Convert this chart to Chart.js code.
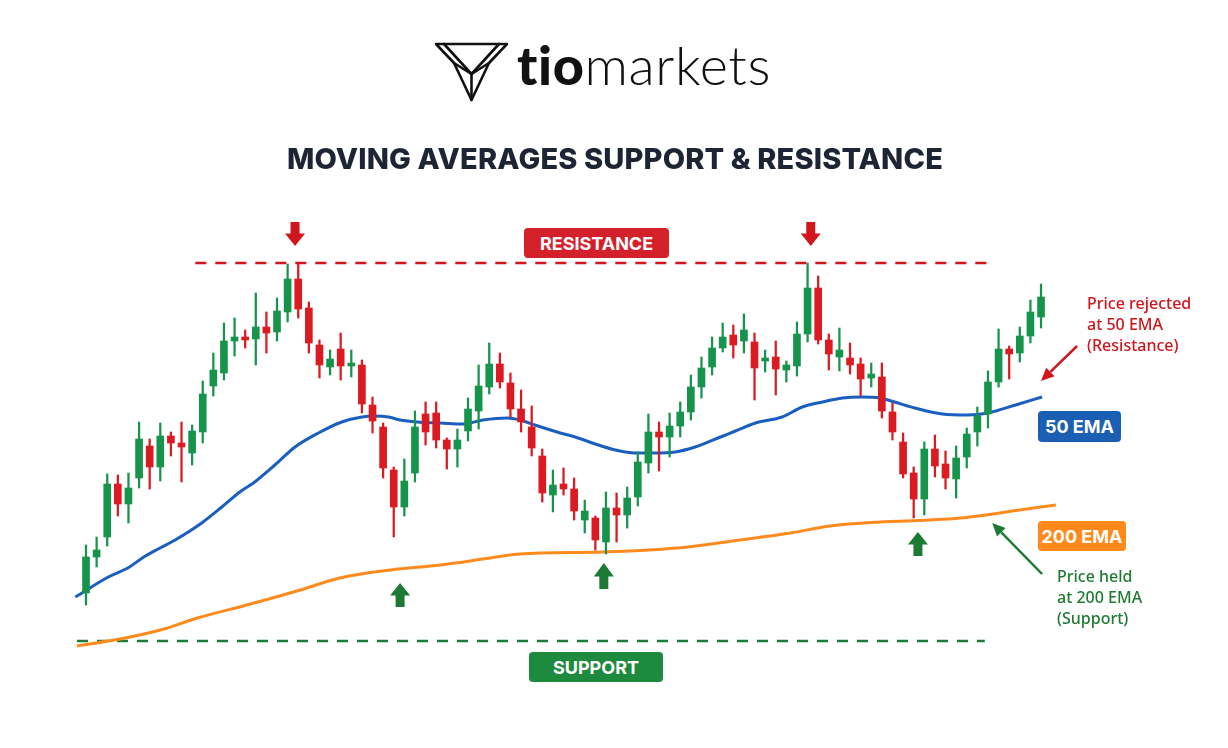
<!DOCTYPE html>
<html><head><meta charset="utf-8">
<script src="https://cdn.jsdelivr.net/npm/chart.js@4.4.0/dist/chart.umd.min.js"></script>
<style>
html,body{margin:0;padding:0;background:#fff;}
#wrap{position:relative;width:1228px;height:748px;overflow:hidden;background:#fff;}
#c{position:absolute;left:0;top:0;}
.abs{position:absolute;white-space:nowrap;}
.badge{position:absolute;color:#fff;font-family:'Inter',sans-serif;font-weight:700;font-size:18px;display:flex;align-items:center;justify-content:center;border-radius:4px;}
.note{position:absolute;white-space:nowrap;font-family:'Noto Sans',sans-serif;font-weight:500;font-size:16px;line-height:21px;}
</style></head>
<body>
<div id="wrap">
<canvas id="c" width="1228" height="748"></canvas>
<svg class="abs" style="left:432px;top:39px" width="80" height="64" viewBox="0 0 80 64">
 <g fill="none" stroke="#111" stroke-width="2.6" stroke-linejoin="round" stroke-linecap="round">
  <path d="M4 5 H75 L57 24 L39.5 61 L22 24 Z"/>
  <path d="M22 24 L39.5 35 L57 24"/>
  <path d="M12 5 L39.5 35 L67 5"/>
  <path d="M39.5 35 L39.5 61"/>
 </g>
</svg>
<div id="brand" class="abs" style="left:517px;top:35px;font-family:'Lato',sans-serif;font-size:54px;line-height:60px;color:#111;"><span style="font-weight:900">tio</span><span style="font-weight:300">markets</span></div>
<div id="title" class="abs" style="left:287px;top:144px;font-family:'Inter',sans-serif;font-weight:800;font-size:29px;line-height:29px;color:#1d2433;">MOVING AVERAGES SUPPORT &amp; RESISTANCE</div>
<div class="badge" style="left:524px;top:228px;width:145px;height:30px;background:#d4202a;">RESISTANCE</div>
<div class="badge" style="left:529px;top:652px;width:134px;height:30px;background:#1e8a3e;">SUPPORT</div>
<div class="badge" style="left:1038px;top:411px;width:83px;height:31px;background:#1a5fb4;">50 EMA</div>
<div class="badge" style="left:1038px;top:521px;width:88px;height:30px;background:#ff8a1c;">200 EMA</div>
<div class="note" style="left:1087px;top:293px;color:#d0151c;">Price rejected<br>at 50 EMA<br>(Resistance)</div>
<div class="note" style="left:1057px;top:566px;color:#1f7a33;">Price held<br>at 200 EMA<br>(Support)</div>
</div>
<script>
// ---- candle data (price units) ----
const candleOpen = [
 40.7,44.3,46.3,51.6,49.6,52.2,55.4,53.3,56.4,55.7,
 54.7,56.8,61.4,62.7,65.9,66.3,66.1,67.3,66.8,68.8,
 72.1,69.2,65.5,63.3,65.1,63.4,63.5,59.5,57.3,53.0,
 49.3,52.7,58.6,58.7,56.0,55.1,56.9,58.9,61.3,63.6,
 61.7,59.1,57.3,54.4,50.5,51.6,51.1,48.0,48.2,45.8,
 49.2,48.5,50.3,53.7,56.8,56.3,57.4,58.8,61.3,63.3,
 65.2,66.5,65.9,65.8,63.9,64.3,63.0,63.4,66.6,71.2,
 66.0,64.3,64.2,63.6,62.2,62.3,58.8,55.8,52.7,50.1,
 55.1,53.6,52.1,54.3,56.8,58.6,61.8,65.1,64.7,66.4,
 68.3];
const candleClose = [
 44.3,45.0,51.6,49.6,51.2,56.1,53.3,56.4,55.7,55.3,
 56.9,60.6,63.0,65.9,66.3,66.0,67.3,66.7,68.9,72.1,
 69.1,65.7,63.5,64.1,63.4,63.7,59.6,57.9,53.2,49.3,
 51.9,57.3,56.8,56.0,55.1,56.0,59.1,61.4,63.6,61.8,
 59.1,57.8,55.2,50.7,51.5,51.1,48.9,48.9,46.0,49.2,
 48.5,50.2,53.8,56.8,56.3,57.4,58.8,61.3,63.2,65.2,
 66.3,65.5,67.0,63.2,64.2,63.1,63.5,66.6,71.2,66.0,
 64.6,65.0,63.5,62.1,62.6,58.9,56.8,52.6,50.1,55.1,
 53.4,52.2,54.2,56.6,58.4,61.8,65.1,64.6,66.4,68.8,
 70.3];
const candleHigh = [
 45.5,46.3,52.6,52.5,52.7,57.8,56.1,57.7,56.8,57.8,
 57.5,61.9,64.7,67.7,68.2,67.0,70.7,68.8,70.2,73.6,
 73.6,69.8,66.0,65.0,66.7,65.0,64.0,60.3,57.7,53.3,
 54.1,58.9,59.8,59.8,56.2,57.1,60.2,63.5,65.7,64.7,
 62.7,61.0,59.4,55.1,53.0,53.2,52.2,50.0,48.4,50.8,
 50.7,51.3,54.8,58.6,57.8,58.7,59.8,62.5,64.3,66.3,
 67.7,67.5,68.6,66.7,65.0,65.9,63.9,67.8,73.7,72.4,
 66.6,67.2,65.7,64.2,63.7,63.7,59.7,56.7,53.3,55.8,
 56.5,54.9,55.4,57.2,59.3,62.9,67.1,65.4,67.3,70.0,
 71.6];
const candleLow = [
 39.5,43.3,45.4,48.4,47.7,51.2,51.1,51.9,54.4,51.8,
 53.5,55.7,60.4,62.0,64.4,65.2,63.5,64.7,65.9,67.8,
 68.2,64.7,62.2,62.5,62.0,62.3,58.7,56.7,52.2,46.3,
 48.4,51.8,55.5,55.2,53.1,53.3,55.9,57.1,60.6,61.2,
 58.3,56.8,54.4,49.8,48.8,50.5,48.0,46.7,45.0,44.6,
 45.8,47.2,49.4,52.7,52.9,54.3,56.3,58.0,60.2,62.5,
 64.8,64.2,64.7,60.0,62.8,60.5,61.8,62.4,65.8,65.6,
 63.0,62.9,62.6,60.4,61.3,58.2,56.0,52.2,48.2,48.5,
 52.3,51.1,50.2,53.2,55.4,57.2,61.3,62.1,63.8,65.7,
 67.2];

// ---- moving averages (bar index position -> price) ----
const ema50At = [-1.0,2.1,4.1,5.3,6.8,8.4,10.9,12.8,14.5,15.9,17.8,19.7,21.9,24.1,26.0,27.2,28.5,29.6,31.2,33.4,35.5,37.4,39.7,40.9,42.3,44.7,46.1,48.0,49.9,51.7,53.6,55.5,57.4,59.8,61.2,63.1,65.6,67.5,69.4,71.3,73.1,74.8,76.2,78.1,80.7,83.1,85.0,87.6,90.1];
const ema50 = [40.3,42.3,43.3,44.2,45.1,46.0,47.7,49.3,50.8,51.8,53.5,55.3,56.7,57.8,58.3,58.4,58.3,58.0,57.8,57.7,57.6,58.0,58.2,58.0,57.5,56.7,56.3,55.6,55.0,54.7,54.7,54.8,55.3,56.3,56.9,57.7,58.3,59.3,59.8,60.2,60.3,60.2,59.8,59.2,58.6,58.5,58.7,59.5,60.3];
const ema200At = [-0.85,3.2,7.0,10.5,15.5,20.2,23.9,28.7,33.4,38.1,40.9,48.7,55.7,61.6,66.4,70.1,74.8,79.5,82.4,86.1,89.3,91.4];
const ema200 = [35.4,36.1,37.0,38.2,39.6,41.0,42.2,43.0,43.5,44.2,44.6,44.8,45.2,46.0,46.7,47.4,47.8,48.0,48.2,48.7,49.2,49.5];

// ---- horizontal levels ----
const resistanceLevel = 73.7, resistanceSpan = [10.3, 85.0];
const supportLevel = 35.9, supportSpan = [-0.85, 84.7];

const UP = '#17944b', DOWN = '#db1a21';
const idx = candleOpen.map((_, i) => i);
const colors = idx.map(i => candleClose[i] >= candleOpen[i] ? UP : DOWN);

const RED = '#d0151c', DGREEN = '#1c7a35';
const blockArrows = [
  {x: 19.7, tip: 75.4, tail: 77.8, color: RED},
  {x: 68.3, tip: 75.4, tail: 77.8, color: RED},
  {x: 29.6, tip: 41.7, tail: 39.3, color: DGREEN},
  {x: 48.8, tip: 43.7, tail: 41.1, color: DGREEN},
  {x: 78.4, tip: 46.8, tail: 44.4, color: DGREEN}
];
const pointerArrows = [
  {from: [93.4, 65.4], to: [90.0, 61.9], color: RED},
  {from: [90.1, 42.6], to: [85.4, 47.7], color: DGREEN}
];

const arrowPlugin = {
  id: 'arrows',
  afterDatasetsDraw(chart) {
    const ctx = chart.ctx, xs = chart.scales.x, ys = chart.scales.y;
    ctx.save();
    blockArrows.forEach(a => {
      const px = xs.getPixelForValue(a.x), tipY = ys.getPixelForValue(a.tip), tailY = ys.getPixelForValue(a.tail);
      const dir = Math.sign(tipY - tailY), len = Math.abs(tipY - tailY);
      const neck = tipY - dir * len * 0.52, hh = 10, sh = 4.5;
      ctx.fillStyle = a.color;
      ctx.beginPath();
      ctx.moveTo(px - sh, tailY); ctx.lineTo(px + sh, tailY); ctx.lineTo(px + sh, neck);
      ctx.lineTo(px + hh, neck); ctx.lineTo(px, tipY); ctx.lineTo(px - hh, neck); ctx.lineTo(px - sh, neck);
      ctx.closePath(); ctx.fill();
    });
    pointerArrows.forEach(a => {
      const x1 = xs.getPixelForValue(a.from[0]), y1 = ys.getPixelForValue(a.from[1]);
      const x2 = xs.getPixelForValue(a.to[0]), y2 = ys.getPixelForValue(a.to[1]);
      const ang = Math.atan2(y2 - y1, x2 - x1), hl = 13, hw = 6;
      const bx = x2 - Math.cos(ang) * hl, by = y2 - Math.sin(ang) * hl;
      ctx.strokeStyle = a.color; ctx.fillStyle = a.color; ctx.lineWidth = 2.5;
      ctx.beginPath(); ctx.moveTo(x1, y1); ctx.lineTo(bx, by); ctx.stroke();
      ctx.beginPath(); ctx.moveTo(x2, y2);
      ctx.lineTo(bx + Math.sin(ang) * hw, by - Math.cos(ang) * hw);
      ctx.lineTo(bx - Math.sin(ang) * hw, by + Math.cos(ang) * hw);
      ctx.closePath(); ctx.fill();
    });
    ctx.restore();
  }
};

new Chart(document.getElementById('c'), {
  type: 'bar',
  data: {
    datasets: [
      {type: 'bar', label: 'body', data: idx.map(i => ({x: i, y: [candleOpen[i], candleClose[i]]})),
       backgroundColor: colors, barThickness: 7, grouped: false, order: 1, borderWidth: 0},
      {type: 'bar', label: 'wick', data: idx.map(i => ({x: i, y: [candleLow[i], candleHigh[i]]})),
       backgroundColor: colors, barThickness: 1.6, grouped: false, order: 2, borderWidth: 0},
      {type: 'line', label: '50 EMA', data: ema50At.map((x, k) => ({x, y: ema50[k]})),
       borderColor: '#1a5fbf', borderWidth: 3, pointRadius: 0, cubicInterpolationMode: 'monotone', order: 3},
      {type: 'line', label: '200 EMA', data: ema200At.map((x, k) => ({x, y: ema200[k]})),
       borderColor: '#ff8b1f', borderWidth: 3, pointRadius: 0, cubicInterpolationMode: 'monotone', order: 4},
      {type: 'line', label: 'Resistance', data: resistanceSpan.map(x => ({x, y: resistanceLevel})),
       borderColor: '#d0151c', borderWidth: 2.5, borderDash: [11, 9], pointRadius: 0, order: 5},
      {type: 'line', label: 'Support', data: supportSpan.map(x => ({x, y: supportLevel})),
       borderColor: '#1e7b3a', borderWidth: 2.5, borderDash: [11, 9], pointRadius: 0, order: 5}
    ]
  },
  options: {
    responsive: false, animation: false, events: [], devicePixelRatio: 1,
    layout: {padding: 0},
    scales: {
      x: {type: 'linear', min: -8.105, max: 107.62, display: false, offset: false},
      y: {min: 25.2, max: 100, display: false}
    },
    plugins: {legend: {display: false}, tooltip: {enabled: false}}
  },
  plugins: [arrowPlugin]
});

function fitWidth(id, target) {
  const el = document.getElementById(id);
  const w = el.getBoundingClientRect().width;
  const n = el.textContent.length;
  el.style.letterSpacing = ((target - w) / n) + 'px';
}
fitWidth('title', 656);
fitWidth('brand', 255);
</script>
</body></html>
